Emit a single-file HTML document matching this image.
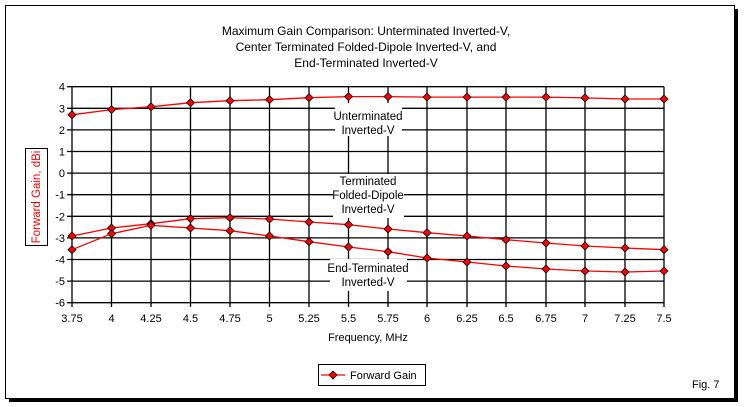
<!DOCTYPE html>
<html><head><meta charset="utf-8"><style>
body{margin:0;background:#fff}
svg{display:block;font-family:"Liberation Sans",Arial,sans-serif}
</style></head><body>
<svg width="744" height="407" xmlns="http://www.w3.org/2000/svg">
<defs>
<marker id="m" markerUnits="userSpaceOnUse" markerWidth="10" markerHeight="10" refX="5" refY="5" viewBox="0 0 10 10" overflow="visible">
<path d="M5,1 L9,5 L5,9 L1,5 Z" fill="#f00" stroke="#000" stroke-width="0.8"/>
</marker>
</defs>
<rect x="0" y="0" width="744" height="407" fill="#fff"/>
<rect x="5.5" y="5.5" width="729" height="393" fill="none" stroke="#000" stroke-width="1"/>
<rect x="735" y="9" width="3" height="393" fill="#000"/>
<rect x="9" y="399" width="729" height="3" fill="#000"/>
<g font-size="12" text-anchor="middle" fill="#000">
<text x="366" y="35">Maximum Gain Comparison: Unterminated Inverted-V,</text>
<text x="366" y="51">Center Terminated Folded-Dipole Inverted-V, and</text>
<text x="366" y="67">End-Terminated Inverted-V</text>
</g>
<g stroke="#000" stroke-width="1.3">
<line x1="67" y1="86.7" x2="664" y2="86.7"/>
<line x1="67" y1="108.3" x2="664" y2="108.3"/>
<line x1="67" y1="129.9" x2="664" y2="129.9"/>
<line x1="67" y1="151.5" x2="664" y2="151.5"/>
<line x1="67" y1="173.1" x2="664" y2="173.1"/>
<line x1="67" y1="194.7" x2="664" y2="194.7"/>
<line x1="67" y1="216.3" x2="664" y2="216.3"/>
<line x1="67" y1="237.9" x2="664" y2="237.9"/>
<line x1="67" y1="259.5" x2="664" y2="259.5"/>
<line x1="67" y1="281.1" x2="664" y2="281.1"/>
<line x1="67" y1="302.7" x2="664" y2="302.7"/>
<line x1="72" y1="86.7" x2="72" y2="307"/>
<line x1="111.5" y1="86.7" x2="111.5" y2="307"/>
<line x1="151" y1="86.7" x2="151" y2="307"/>
<line x1="190.5" y1="86.7" x2="190.5" y2="307"/>
<line x1="230" y1="86.7" x2="230" y2="307"/>
<line x1="269.5" y1="86.7" x2="269.5" y2="307"/>
<line x1="309" y1="86.7" x2="309" y2="307"/>
<line x1="348.5" y1="86.7" x2="348.5" y2="307"/>
<line x1="388" y1="86.7" x2="388" y2="307"/>
<line x1="427" y1="86.7" x2="427" y2="307"/>
<line x1="467" y1="86.7" x2="467" y2="307"/>
<line x1="506" y1="86.7" x2="506" y2="307"/>
<line x1="546" y1="86.7" x2="546" y2="307"/>
<line x1="585" y1="86.7" x2="585" y2="307"/>
<line x1="625" y1="86.7" x2="625" y2="307"/>
<line x1="664" y1="86.7" x2="664" y2="307"/>
</g>
<g font-size="11" fill="#000" text-anchor="end">
<text x="65" y="90.7">4</text>
<text x="65" y="112.3">3</text>
<text x="65" y="133.9">2</text>
<text x="65" y="155.5">1</text>
<text x="65" y="177.1">0</text>
<text x="65" y="198.7">-1</text>
<text x="65" y="220.3">-2</text>
<text x="65" y="241.9">-3</text>
<text x="65" y="263.5">-4</text>
<text x="65" y="285.1">-5</text>
<text x="65" y="306.7">-6</text>
</g>
<g font-size="11" fill="#000" text-anchor="middle">
<text x="72" y="322">3.75</text>
<text x="111.5" y="322">4</text>
<text x="151" y="322">4.25</text>
<text x="190.5" y="322">4.5</text>
<text x="230" y="322">4.75</text>
<text x="269.5" y="322">5</text>
<text x="309" y="322">5.25</text>
<text x="348.5" y="322">5.5</text>
<text x="388" y="322">5.75</text>
<text x="427" y="322">6</text>
<text x="467" y="322">6.25</text>
<text x="506" y="322">6.5</text>
<text x="546" y="322">6.75</text>
<text x="585" y="322">7</text>
<text x="625" y="322">7.25</text>
<text x="664" y="322">7.5</text>
</g>
<g fill="none" stroke="#f00" stroke-width="1.3" marker-start="url(#m)" marker-mid="url(#m)" marker-end="url(#m)">
<polyline points="72,114.8 111.5,109.6 151,106.8 190.5,102.7 230,100.7 269.5,99.7 309,97.7 348.5,96.6 388,96.6 427,97.1 467,97.1 506,97.1 546,97.1 585,97.9 625,99 664,99"/>
<polyline points="72,236 111.5,228 151,223.7 190.5,218.7 230,217.7 269.5,219 309,222 348.5,224.7 388,229 427,232.7 467,236 506,239.7 546,243 585,246 625,248 664,249.7"/>
<polyline points="72,249.7 111.5,233.7 151,225.3 190.5,228 230,230.7 269.5,236 309,241.7 348.5,247 388,251.7 427,258 467,262 506,266 546,269 585,271 625,272 664,271"/>
</g>
<rect x="335" y="103" width="67" height="33" fill="#fff"/>
<rect x="333" y="174" width="71" height="44" fill="#fff"/>
<rect x="330" y="259" width="77" height="32" fill="#fff"/>
<g font-size="11.5" text-anchor="middle" fill="#000">
<text x="368" y="120">Unterminated</text>
<text x="368" y="134">Inverted-V</text>
<text x="368" y="185">Terminated</text>
<text x="368" y="199">Folded-Dipole</text>
<text x="368" y="213">Inverted-V</text>
<text x="368" y="272">End-Terminated</text>
<text x="368" y="286">Inverted-V</text>
</g>
<text x="368" y="341" font-size="11" text-anchor="middle">Frequency, MHz</text>
<rect x="25.5" y="148.5" width="22" height="97" fill="#fff" stroke="#000"/>
<text transform="translate(40,197) rotate(-90)" font-size="11.5" text-anchor="middle" fill="#f00">Forward Gain,  dBi</text>
<rect x="318.5" y="364.5" width="107" height="21" fill="#fff" stroke="#000"/>
<line x1="321" y1="375" x2="345" y2="375" stroke="#f00" stroke-width="1.3"/>
<path d="M333,371 L337,375 L333,379 L329,375 Z" fill="#f00" stroke="#000" stroke-width="0.8"/>
<text x="350" y="379" font-size="11">Forward Gain</text>
<text x="692" y="388" font-size="11">Fig. 7</text>
</svg>
</body></html>
